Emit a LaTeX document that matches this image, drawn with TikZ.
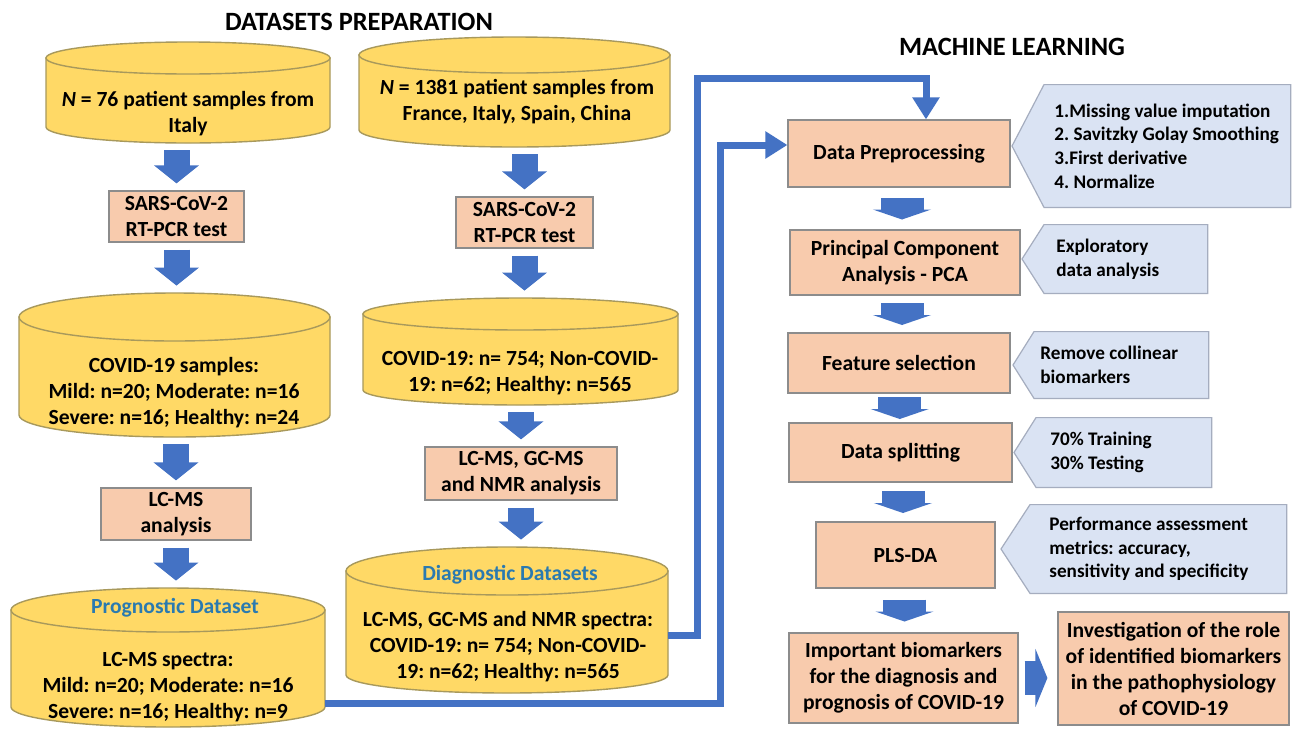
\documentclass[tikz,border=0pt]{standalone}
\usepackage{fontspec}
\setmainfont{Carlito}
\usetikzlibrary{arrows.meta,calc,fit,backgrounds}

\definecolor{dbyellow}{HTML}{FFD966}
\definecolor{dbline}{HTML}{A8995C}
\definecolor{procfill}{HTML}{F8CBAD}
\definecolor{procline}{HTML}{8C8C8C}
\definecolor{notefill}{HTML}{DAE3F3}
\definecolor{noteline}{HTML}{A5ADBF}
\definecolor{flowblue}{HTML}{4472C4}
\definecolor{dstitle}{HTML}{2A7AB0}

\tikzset{
  proc/.style={draw=procline, fill=procfill, line width=0.6pt, align=flush center, inner sep=0pt,
    font=\fontsize{10.8}{13}\selectfont\bfseries},
  note/.style={anchor=west, align=flush left, inner ysep=0pt, font=\fontsize{9.6}{11.8}\selectfont\bfseries},
  notebg/.style={draw=noteline, fill=notefill, line width=0.6pt},
  db/.style={draw=dbline, fill=dbyellow, line width=0.7pt},
  dbtext/.style={align=flush center, inner sep=0pt, font=\fontsize{10.8}{13}\selectfont\bfseries},
  dbtitle/.style={dbtext, text=dstitle},
  heading/.style={font=\fontsize{13.2}{15}\selectfont\bfseries},
  fat/.style={draw=flowblue, line width=13pt, -{Triangle[width=22pt,length=9pt]},
    shorten <=3.5pt, shorten >=3.5pt},
  stub/.style={draw=flowblue, line width=21.5pt, -{Triangle[width=29pt,length=5pt]}},
  side/.style={draw=flowblue, line width=17pt, -{Triangle[width=29pt,length=6pt]},
    shorten <=3pt, shorten >=5pt},
  link/.style={draw=flowblue, line width=3.5pt, -{Triangle[width=13pt,length=11pt]}},
}

\begin{document}
\frenchspacing
\begin{tikzpicture}[x=0.5pt, y=-0.5pt]
  \begin{pgfonlayer}{background}
    \fill[white] (0,0) rectangle (1297,729);
  \end{pgfonlayer}
  \useasboundingbox (0,0) rectangle (1297,729);

  % headings
  \node[heading] (hPrep) at (359,22) {DATASETS PREPARATION};
  \node[heading] (hML) at (1012,47) {MACHINE LEARNING};

  % datasets as cylinders: name/left/right/top y/top ry/bottom y/bottom ry
  \foreach \n/\xl/\xr/\yt/\rt/\yb/\rb in {
      cylA/46/330/58/16/127/16,
      cylB/359/670/55/18/130/17,
      cylC/19/330/317/24/415/22,
      cylD/363/678/314/16/390/15,
      cylE/11/325/610/22/707/20,
      cylF/346/668/571/24/675/18}{
    \pgfmathsetmacro\rx{(\xr-\xl)/4}
    \pgfmathsetmacro\rtt{\rt/2}
    \pgfmathsetmacro\rbb{\rb/2}
    \pgfmathsetmacro\ytop{\yt-\rt}
    \pgfmathsetmacro\ybot{\yb+\rb}
    \filldraw[db] (\xl,\yt) -- (\xl,\yb)
      arc[start angle=180, end angle=360, x radius=\rx pt, y radius=\rbb pt] -- (\xr,\yt) -- cycle;
    \filldraw[db] ({(\xl+\xr)/2},\yt) ellipse[x radius=\rx pt, y radius=\rtt pt];
    \node[fit={(\xl,\ytop) (\xr,\ybot)}, inner sep=0pt] (\n) {};
  }

  \node[dbtext] (tA) at (188,113.5) {\textit{N} = 76 patient samples from\\Italy};
  \node[dbtext] (tB) at (517,101.5) {\textit{N} = 1381 patient samples from\\France, Italy, Spain, China};
  \node[dbtext] (tC) at (174,393) {COVID-19 samples:\\Mild: n=20; Moderate: n=16\\Severe: n=16; Healthy: n=24};
  \node[dbtext] (tD) at (520,373.5) {COVID-19: n= 754; Non-COVID-\\19: n=62; Healthy: n=565};
  \node[dbtitle] (tE0) at (175,608) {Prognostic Dataset};
  \node[dbtext] (tE) at (168,687) {LC-MS spectra:\\Mild: n=20; Moderate: n=16\\Severe: n=16; Healthy: n=9};
  \node[dbtitle] (tF0) at (510,575) {Diagnostic Datasets};
  \node[dbtext] (tF) at (508,647) {LC-MS, GC-MS and NMR spectra:\\COVID-19: n= 754; Non-COVID-\\19: n=62; Healthy: n=565};

  % processing steps
  \node[proc, minimum width=67.5pt, minimum height=25.5pt] (sarsA) at (176.5,216.5) {SARS-CoV-2\\RT-PCR test};
  \node[proc, minimum width=68.5pt, minimum height=25.5pt] (sarsB) at (524.5,222.5) {SARS-CoV-2\\RT-PCR test};
  \node[proc, minimum width=75pt, minimum height=26pt] (lcms) at (176,514) {LC-MS\\analysis};
  \node[proc, minimum width=96pt, minimum height=26.5pt] (lcgc) at (521,473.5) {LC-MS, GC-MS\\and NMR analysis};
  \node[proc, minimum width=111pt, minimum height=33.5pt] (pre) at (899,153.5) {Data Preprocessing};
  \node[proc, minimum width=115pt, minimum height=32.5pt] (pca) at (905,262.5) {Principal Component\\Analysis - PCA};
  \node[proc, minimum width=111pt, minimum height=30pt] (feat) at (899,363) {Feature selection};
  \node[proc, minimum width=111.5pt, minimum height=29.5pt] (split) at (900.5,452.5) {Data splitting};
  \node[proc, minimum width=89.5pt, minimum height=33pt] (pls) at (905.5,555) {PLS-DA};
  \node[proc, minimum width=114.5pt, minimum height=45pt] (imp) at (903.5,678) {Important biomarkers\\for the diagnosis and\\prognosis of COVID-19};
  \node[proc, minimum width=115.5pt, minimum height=56.5pt] (inv) at (1173.5,668.5) {Investigation of the role\\of identified biomarkers\\in the pathophysiology\\of COVID-19};

  % notes
  \node[note, text width=113pt, inner xsep=5pt, minimum height=61pt] (n1) at (1044,146) {1.Missing value imputation\\2. Savitzky Golay Smoothing\\3.First derivative\\4. Normalize};
  \node[note, text width=69.5pt, inner xsep=6pt, minimum height=34pt] (n2) at (1044,259) {Exploratory\\data analysis};
  \node[note, text width=81pt, inner xsep=3pt, minimum height=33pt] (n3) at (1034,365) {Remove collinear\\biomarkers};
  \node[note, text width=73.5pt, inner xsep=7pt, minimum height=34.5pt] (n4) at (1036,452.5) {70\% Training\\30\% Testing};
  \node[note, text width=109pt, inner xsep=9.5pt, minimum height=44pt] (n5) at (1030,549) {Performance assessment\\metrics: accuracy,\\sensitivity and specificity};
  \begin{pgfonlayer}{background}
    \foreach \n/\d in {n1/16, n2/11, n3/10.5, n4/11, n5/14.5}
      \filldraw[notebg] (\n.north west) -- (\n.north east) -- (\n.south east)
        -- (\n.south west) -- ([xshift=-\d pt]\n.west) -- cycle;
  \end{pgfonlayer}

  % block arrows
  \draw[fat] (sarsA.north |- cylA.south) -- (sarsA.north);
  \draw[fat] (sarsA.south) -- (sarsA.south |- cylC.north);
  \draw[fat] (lcms.north |- cylC.south) -- (lcms.north);
  \draw[fat] (lcms.south) -- (lcms.south |- cylE.north);
  \draw[fat] (sarsB.north |- cylB.south) -- (sarsB.north);
  \draw[fat] (sarsB.south) -- (sarsB.south |- cylD.north);
  \draw[fat] (lcgc.north |- cylD.south) -- (lcgc.north);
  \draw[fat] (lcgc.south) -- (lcgc.south |- cylF.north);
  \foreach \a/\b in {pre/pca, pca/feat, feat/split, split/pls, pls/imp}
    \draw[stub] ($(\a.south)!.5!(\b.north)$) ++(0,-11) -- ++(0,22);
  \draw[side] (imp.east) -- (imp.east -| inv.west);

  % datasets into the pipeline
  \draw[link] ([yshift=-7.5pt]cylF.east) -| (697,78) -| ([xshift=13.5pt]pre.north);
  \draw[link] ([yshift=-22.75pt]cylE.east) -| (720,145) -- ([yshift=4.25pt]pre.west);
\end{tikzpicture}
\end{document}
